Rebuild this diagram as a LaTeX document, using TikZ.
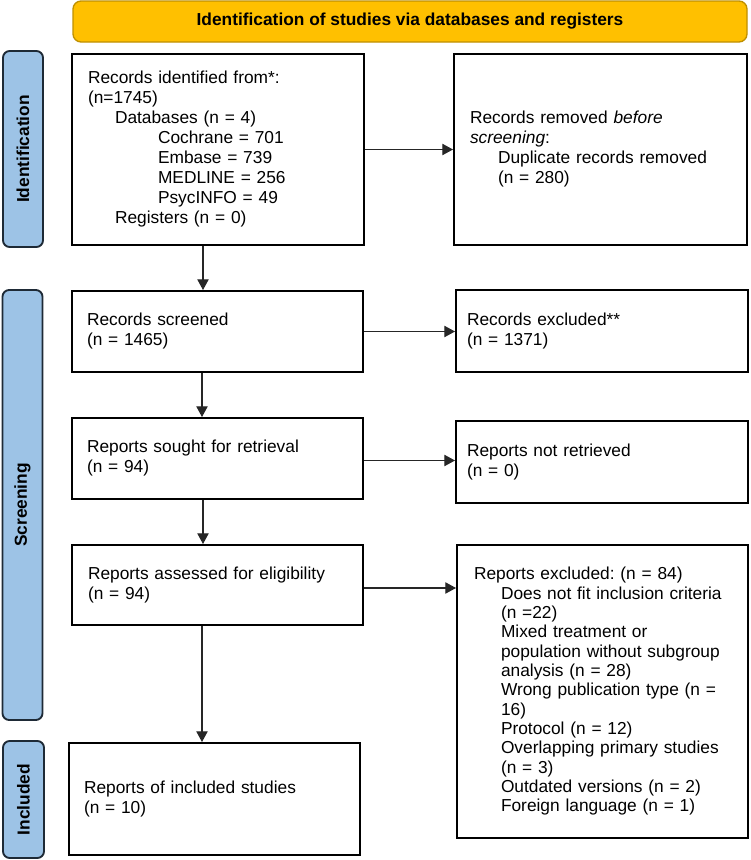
\documentclass[tikz,border=0pt]{standalone}
\usepackage{fontspec}
\setmainfont{Liberation Sans}
\usetikzlibrary{arrows.meta}
\definecolor{gold}{HTML}{FFC000}
\definecolor{goldline}{HTML}{BF9000}
\definecolor{lblue}{HTML}{9DC3E6}
\definecolor{navy}{HTML}{1E2A36}
\frenchspacing
\begin{document}
\begin{tikzpicture}[x=0.75pt,y=-0.75pt,
  txt/.style={font=\fontsize{13pt}{15pt}\selectfont},
  pbox/.style={draw=black, line width=1.5pt, rectangle, align=left, txt, inner ysep=0pt},
  phase/.style={draw=navy, fill=lblue, line width=1.4pt, rounded corners=5pt, rotate=90,
    font=\fontsize{13pt}{15pt}\selectfont\bfseries, inner sep=0pt},
  hdrstyle/.style={draw=goldline, fill=gold, line width=1pt, rounded corners=6pt,
    font=\fontsize{13pt}{15pt}\selectfont\bfseries, inner sep=0pt},
  arr/.style={-{Triangle[length=8pt,width=8.5pt]}, line width=0.8pt, draw=black!85}
]
\useasboundingbox (0,0) rectangle (750,860);

% header
\node[hdrstyle, minimum width=505.5pt, minimum height=30.75pt] (hdr) at (410,21.5)
  {Identification of studies via databases and registers};

% phase labels
\node[phase, minimum width=147pt, minimum height=30pt] (lab1) at (23,149) {Identification};
\node[phase, minimum width=322.5pt, minimum height=30pt] (lab2) at (22.5,505) {Screening};
\node[phase, minimum width=87.75pt, minimum height=30.75pt] (lab3) at (23.5,799.5) {Included};

% boxes
\node[pbox, minimum width=219pt, minimum height=143.25pt, inner xsep=12pt, text width=195pt] (ident) at (218,149.5)
  {Records identified from*:\\
   (n=1745)\\
   \hspace*{20.25pt}Databases (n = 4)\\
   \hspace*{52.5pt}Cochrane = 701\\
   \hspace*{52.5pt}Embase = 739\\
   \hspace*{52.5pt}MEDLINE = 256\\
   \hspace*{52.5pt}PsycINFO = 49\\
   \hspace*{20.25pt}Registers (n = 0)};

\node[pbox, minimum width=219.75pt, minimum height=143.25pt, inner xsep=12pt, text width=195.75pt] (removed) at (600.5,149.5)
  {Records removed \emph{before}\\
   \emph{screening}:\\
   \hspace*{21pt}Duplicate records removed\\
   \hspace*{21pt}(n = 280)};

\node[pbox, minimum width=218.25pt, minimum height=60.75pt, inner xsep=11.25pt, text width=195.75pt] (screened) at (217.5,331.5)
  {Records screened\\(n = 1465)};

\node[pbox, minimum width=219pt, minimum height=61.5pt, inner xsep=8.25pt, text width=202.5pt] (excluded) at (602,331)
  {Records excluded**\\(n = 1371)};

\node[pbox, minimum width=218.25pt, minimum height=60.75pt, inner xsep=11.25pt, text width=195.75pt] (sought) at (217.5,458.5)
  {Reports sought for retrieval\\(n = 94)};

\node[pbox, minimum width=219pt, minimum height=61.5pt, inner xsep=8.25pt, text width=202.5pt] (notret) at (602,462)
  {Reports not retrieved\\(n = 0)};

\node[pbox, minimum width=218.25pt, minimum height=60pt, inner xsep=12pt, text width=194.25pt] (assessed) at (217.5,585)
  {Reports assessed for eligibility\\(n = 94)};

\node[pbox, minimum width=218.25pt, minimum height=219.75pt, inner xsep=12.75pt, text width=192.75pt,
      font=\fontsize{13pt}{14.5pt}\selectfont] (repexcl) at (602.5,691.5)
  {Reports excluded: (n = 84)\\
   \hspace*{20.25pt}Does not fit inclusion criteria\\
   \hspace*{20.25pt}(n =22)\\
   \hspace*{20.25pt}Mixed treatment or\\
   \hspace*{20.25pt}population without subgroup\\
   \hspace*{20.25pt}analysis (n = 28)\\
   \hspace*{20.25pt}Wrong publication type (n =\\
   \hspace*{20.25pt}16)\\
   \hspace*{20.25pt}Protocol (n = 12)\\
   \hspace*{20.25pt}Overlapping primary studies\\
   \hspace*{20.25pt}(n = 3)\\
   \hspace*{20.25pt}Outdated versions (n = 2)\\
   \hspace*{20.25pt}Foreign language (n = 1)};

\node[pbox, minimum width=218.25pt, minimum height=84pt, inner xsep=11.25pt, text width=195.75pt] (included) at (214.5,799)
  {Reports of included studies\\(n = 10)};

% connectors
\coordinate (sp) at (203,0);
\coordinate (sp2) at (202,0);
\draw[arr] (ident.south -| sp) -- (screened.north -| sp);
\draw[arr] (screened.south -| sp2) -- (sought.north -| sp2);
\draw[arr] (sought.south -| sp) -- (assessed.north -| sp);
\draw[arr] (assessed.south -| sp2) -- (included.north -| sp2);

\draw[arr] (ident.east) -- (ident.east -| removed.west);
\draw[arr] (screened.east) -- (screened.east -| excluded.west);
\draw[arr] ([yshift=-1.5pt]sought.east) -- ([yshift=-1.5pt]sought.east -| notret.west);
\draw[arr] ([yshift=-2.25pt]assessed.east) -- ([yshift=-2.25pt]assessed.east -| repexcl.west);
\end{tikzpicture}
\end{document}
